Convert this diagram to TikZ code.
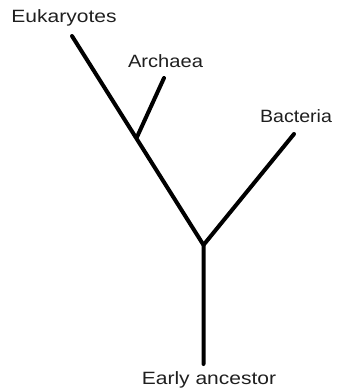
\documentclass[tikz,border=0pt]{standalone}
\usepackage{fontspec}
\setmainfont{Liberation Sans}
\begin{document}
\begin{tikzpicture}[x=1pt,y=-1pt,
  branch/.style={line width=4pt,line cap=round,black},
  lab/.style={anchor=base,inner sep=0pt,text=black!88,font=\fontsize{17.8}{20}\selectfont}]
\useasboundingbox (0,0) rectangle (337,389);
\coordinate (euk) at (72,36);
\coordinate (arcj) at (137,137);
\coordinate (arc) at (164,78);
\coordinate (root) at (203.5,245);
\coordinate (bac) at (294,134);
\coordinate (base) at (203.5,364);
\draw[branch] (base) -- (root) -- (euk);
\draw[branch] (root) -- (bac);
\draw[branch] (arcj) -- (arc);
\node[lab] (teuk) at (64,22.7) {\scalebox{1.18}[1]{Eukaryotes}};
\node[lab] (tarc) at (165.5,67.7) {\scalebox{1.13}[1]{Archaea}};
\node[lab] (tbac) at (296,122.7) {\scalebox{1.1}[1]{Bacteria}};
\node[lab] (tanc) at (209,384.3) {\scalebox{1.18}[1]{Early ancestor}};
\end{tikzpicture}
\end{document}
